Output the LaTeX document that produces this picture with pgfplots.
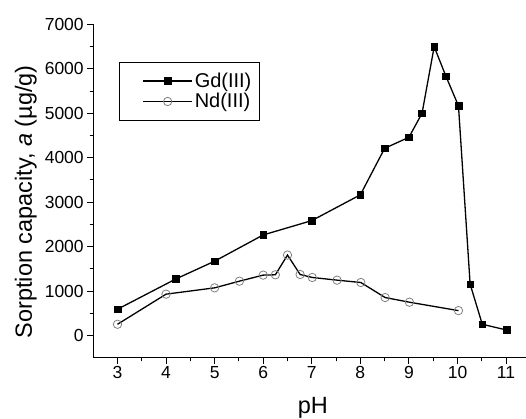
\documentclass[border=0pt]{standalone}
\usepackage{pgfplots}
\pgfplotsset{compat=1.18}
\usepackage{fontspec}
\setmainfont{Liberation Sans}

% sorption data
\pgfplotstableread{
x y
3 595
4.2 1275
5 1675
6 2265
7 2587
8 3167
8.5 4212
9 4460
9.27 5000
9.52 6497
9.76 5836
10.02 5166
10.26 1160
10.51 257
11.01 128
}\gd
\pgfplotstableread{
x y
3 257
4 934
5 1076
5.51 1226
6 1362
6.25 1369
6.5 1813
6.76 1376
7.01 1309
7.52 1249
8.01 1196
8.51 858
9.01 753
10.02 564
}\nd

\begin{document}
\begin{tikzpicture}
\begin{axis}[
    scale only axis,
    width=432.7pt, height=334pt,
    xmin=2.5, xmax=11.4,
    ymin=-500, ymax=7000,
    axis x line*=bottom, axis y line*=left,
    axis line style={line width=1pt},
    xtick={3,...,11}, minor x tick num=1,
    ytick={0,1000,...,7000}, minor y tick num=1,
    tick align=outside,
    major tick length=6pt, minor tick length=3.5pt,
    tick style={line width=1pt, black},
    /pgf/number format/assume math mode=true,
    /pgf/number format/1000 sep={},
    ticklabel style={font=\fontsize{17.5}{20}\selectfont},
    xticklabel style={yshift=1.5pt},
    xlabel={pH},
    ylabel={Sorption capacity, \textit{a} (µg/g)},
    label style={font=\fontsize{23.5}{27}\selectfont},
    xlabel style={at={(axis description cs:0.508,-0.149)}, anchor=center, inner sep=0pt},
    ylabel style={at={(axis description cs:-0.156,0.468)}, anchor=center, inner sep=0pt},
    legend style={at={(axis description cs:0.060,0.888)}, anchor=north west,
        draw=black, line width=0.8pt, font=\fontsize{20}{24}\selectfont,
        inner xsep=6pt, inner ysep=9pt, row sep=0.5pt},
    legend cell align=left,
    legend image code/.code={\path (-17pt,0pt);\draw[mark repeat=2,mark phase=2,#1] plot coordinates {(0pt,0pt) (24.5pt,0pt) (49pt,0pt)};},
]
\addplot[line width=1.3pt, black, mark=square*, mark size=3.3pt, mark options={fill=black, draw=black, line width=0.5pt}] table {\gd};
\addlegendentry{Gd(III)}
\addplot[line width=1.3pt, black, mark=o, mark size=4.2pt, mark options={fill=white, draw=gray, line width=0.8pt}] table {\nd};
\addlegendentry{Nd(III)}
\end{axis}
\path ([shift={(-93.3pt,-60.7pt)}]current axis.south west) rectangle ([shift={(0pt,24.3pt)}]current axis.north east);
\end{tikzpicture}
\end{document}
